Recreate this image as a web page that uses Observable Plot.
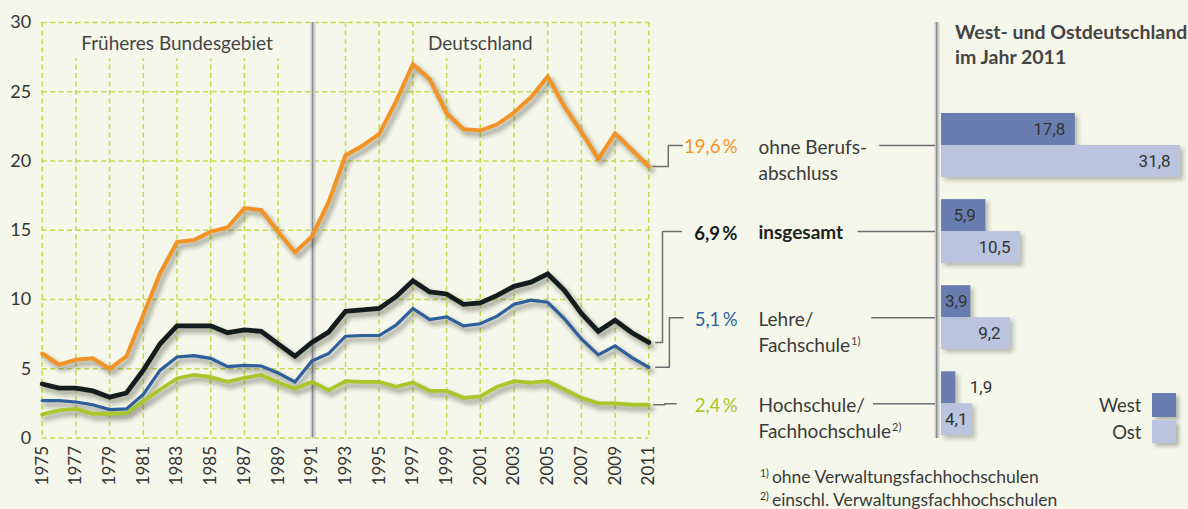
<!DOCTYPE html>
<html lang="de">
<head>
<meta charset="utf-8">
<script src="https://cdn.jsdelivr.net/npm/d3@7"></script>
<script src="https://cdn.jsdelivr.net/npm/@observablehq/plot@0.6"></script>
<style>
  html, body { margin:0; padding:0; background:#f5f7ea; }
  #chart { position:relative; width:1188px; height:509px; background:#f5f7ea; overflow:hidden;
           font-family: Lato, "Open Sans", sans-serif; color:#3a3a3a; }
  #chart svg { position:absolute; left:0; top:0; }
  #chart svg [aria-label^="y-axis"] text { font-size:18px; }
  .title { position:absolute; left:955px; top:19px; font-weight:700; font-size:19.5px; line-height:25px; color:#444; white-space:nowrap; }
  .foot { position:absolute; left:760px; top:465px; font-size:17.5px; line-height:23.3px; color:#3a3a3a; white-space:nowrap; }
  .foot sup { font-size:10.5px; vertical-align:6px; line-height:0; margin-right:3px; }
  .lg-text { position:absolute; width:60px; text-align:right; font-size:18.5px; line-height:24px; color:#3a3a3a; }
  .lg-sw { position:absolute; box-shadow:3px 3px 4px rgba(0,0,0,0.28); }
</style>
</head>
<body>
<div id="chart"></div>
<script>
// ---------------- data ----------------
const years = [1975,1976,1977,1978,1979,1980,1981,1982,1983,1984,1985,1986,1987,1988,1989,1990,1991,1992,1993,1994,1995,1996,1997,1998,1999,2000,2001,2002,2003,2004,2005,2006,2007,2008,2009,2010,2011];
const tickYears = [1975,1977,1979,1981,1983,1985,1987,1989,1991,1993,1995,1997,1999,2001,2003,2005,2007,2009,2011];
const yTicks = [0,5,10,15,20,25,30];

const ohneBerufsabschluss = [6.1,5.3,5.65,5.75,5.0,5.9,8.9,11.9,14.15,14.3,
  14.9,15.2,16.6,16.45,14.9,13.4,14.55,17.05,20.4,21.1,
  21.95,24.3,27.0,25.9,23.45,22.3,22.2,22.65,23.5,24.6,
  26.1,23.9,22.1,20.15,22.0,20.8,19.6];
const insgesamt = [3.9,3.6,3.6,3.4,2.95,3.25,4.9,6.8,8.1,8.1,
  8.1,7.6,7.8,7.7,6.8,5.9,6.9,7.65,9.15,9.25,
  9.35,10.2,11.35,10.55,10.4,9.65,9.75,10.3,10.95,11.25,
  11.85,10.65,9.0,7.7,8.5,7.6,6.9];
const lehreFachschule = [2.7,2.7,2.6,2.4,2.05,2.1,3.15,4.9,5.85,5.95,
  5.75,5.15,5.25,5.2,4.7,4.05,5.55,6.1,7.35,7.4,
  7.4,8.15,9.35,8.55,8.75,8.1,8.25,8.8,9.65,9.95,
  9.8,8.6,7.15,6.0,6.65,5.8,5.1];
const hochschule = [1.7,2.0,2.1,1.75,1.75,1.8,2.65,3.5,4.3,4.55,
  4.4,4.05,4.35,4.55,4.0,3.55,4.05,3.45,4.1,4.05,
  4.05,3.7,4.0,3.4,3.4,2.9,3.0,3.7,4.1,4.0,
  4.1,3.5,2.9,2.5,2.5,2.4,2.4];

const periodLabels = ["Früheres Bundesgebiet", "Deutschland"];
const periodBounds = [[1975, 1991], [1991, 2011]];

const categories = ["ohne Berufsabschluss", "insgesamt", "Lehre/Fachschule", "Hochschule/Fachhochschule"];
const labelLine1 = ["ohne Berufs-", "insgesamt", "Lehre/", "Hochschule/"];
const labelLine2 = ["abschluss", "", "Fachschule", "Fachhochschule"];
const footnoteMarks = ["", "", "1)", "2)"];
const westValues = [17.8, 5.9, 3.9, 1.9];
const ostValues = [31.8, 10.5, 9.2, 4.1];
const legendKeys = ["West", "Ost"];
const barTitle = ["West- und Ostdeutschland", "im Jahr 2011"];
const footnotes = [["1)", "ohne Verwaltungsfachhochschulen"], ["2)", "einschl. Verwaltungsfachhochschulen"]];

// ---------------- styles ----------------
const BG = "#f5f7ea";
const GRID = "#c6da4c";
const seriesValues = [ohneBerufsabschluss, insgesamt, lehreFachschule, hochschule];
const seriesStyle = [
  {color:"#f39325", width:4,   bold:false},
  {color:"#141c1e", width:4.8, bold:true},
  {color:"#2e5e9c", width:3.2, bold:false},
  {color:"#a9c72b", width:3.8, bold:false}
];
const drawOrder = [3, 2, 1, 0];
const elbow = [ {start:4, mid:19.5, end:33.5}, {start:7, mid:13.7, end:32.5},
                {start:7, mid:20.6, end:34.3}, {start:5, mid:16, end:27.4} ];
const connStartPx = [-61.8, -83.4, -69.7, -68];
const barColors = {West:"#6a7db0", Ost:"#bbc4df"};

const W = 1188, H = 509;
const LF = {left:41.7, right:648.3, top:22, bottom:437.5};
const BF = {left:941, right:1181.6, top:22, bottom:438, bandTop:113, bandBottom:435.3};

const lx = Plot.scale({x:{domain:[1975, 2011], range:[LF.left, LF.right]}});
const ly = Plot.scale({y:{domain:[0, 30], range:[LF.bottom, LF.top]}});
const bx = Plot.scale({x:{domain:[0, 32], range:[BF.left, BF.right]}});
const yBandOpts = {type:"band", domain:categories, range:[BF.bandTop, BF.bandBottom], paddingInner:0.2567, paddingOuter:0, align:0.5, round:false};
const by = Plot.scale({y:yBandOpts});
const bandCenter = c => by.apply(c) + by.bandwidth / 2;
const fmt = v => d3.format(".1f")(v).replace(".", ",");

const ctx = document.createElement("canvas").getContext("2d");
function textWidth(t, font) { ctx.font = font; return ctx.measureText(t).width; }

// ---------------- line chart ----------------
const lineData = seriesValues.map((vals, s) => years.map((year, i) => ({s, year, value: vals[i]})));
const periods = periodLabels.map((label, i) => ({label, mid:(periodBounds[i][0] + periodBounds[i][1]) / 2,
  half: textWidth(label, "19px Lato") / 2 + 10}));
const labelCenterY = 43.3;

const connectors = categories.map((c, s) => {
  const endV = seriesValues[s][seriesValues[s].length - 1];
  const x0 = lx.apply(2011);
  const yL = ly.invert(bandCenter(c));
  const e = elbow[s];
  return [
    {s, x: lx.invert(x0 + e.start), y: endV},
    {s, x: lx.invert(x0 + e.mid), y: endV},
    {s, x: lx.invert(x0 + e.mid), y: yL},
    {s, x: lx.invert(x0 + e.end), y: yL}
  ];
}).flat();

const lineMarks = [
  Plot.ruleY(yTicks, {stroke: GRID, strokeWidth: 1.5, strokeDasharray: "5,3.5"}),
  Plot.ruleX(tickYears, {stroke: GRID, strokeWidth: 1.5, strokeDasharray: "5,3.5"}),
  Plot.rect(periods, {x1: d => lx.invert(lx.apply(d.mid) - d.half), x2: d => lx.invert(lx.apply(d.mid) + d.half),
    y1: ly.invert(labelCenterY + 15), y2: ly.invert(LF.top + 2.2), fill: BG}),
  Plot.text(periods, {x: "mid", text: "label", frameAnchor: "top", lineAnchor: "middle", dy: labelCenterY - LF.top,
    fontSize: 19, fill: "#454545", fontFamily: "Lato, sans-serif"}),
  Plot.ruleX([1991], {stroke: "#cdcdcd", strokeWidth: 5, dx: 1.2}),
  Plot.ruleX([1991], {stroke: "#8e8e8e", strokeWidth: 1.3, dx: 0.8})
];
for (const s of drawOrder) {
  lineMarks.push(Plot.line(lineData[s], {x: "year", y: "value", stroke: "#2a2a1a", strokeOpacity: 0.35,
    strokeWidth: seriesStyle[s].width + 1.5, dx: 3, dy: 4, ariaDescription: "shadow"}));
}
for (const s of drawOrder) {
  lineMarks.push(Plot.line(lineData[s], {x: "year", y: "value", stroke: seriesStyle[s].color,
    strokeWidth: seriesStyle[s].width, strokeLinejoin: "miter", strokeMiterlimit: 3}));
}
lineMarks.push(Plot.line(connectors, {x: "x", y: "y", z: "s", stroke: "#6e6e6e", strokeWidth: 1.5, curve: "linear"}));

const linePlot = Plot.plot({
  width: W, height: H,
  marginLeft: LF.left, marginRight: W - LF.right, marginTop: LF.top, marginBottom: H - LF.bottom,
  style: {background: "transparent", overflow: "visible", fontFamily: "Lato, sans-serif", fontSize: "17px", color: "#333"},
  x: {domain: [1975, 2011], ticks: tickYears, tickFormat: d => String(d), tickRotate: -90, tickSize: 0, tickPadding: 8, label: null},
  y: {domain: [0, 30], ticks: yTicks, tickSize: 0, tickPadding: 11, label: null},
  marks: lineMarks
});

// ---------------- bar chart ----------------
const rows = categories.map((cat, i) => ({cat, i, l1: labelLine1[i], l2: labelLine2[i], note: footnoteMarks[i],
  west: westValues[i], ost: ostValues[i], last: seriesValues[i][seriesValues[i].length - 1]}));
const barRows = rows.flatMap(r => [{cat: r.cat, key: "West", value: r.west}, {cat: r.cat, key: "Ost", value: r.ost}]);
const barLen = v => bx.apply(v) - bx.apply(0);
const placement = v => barLen(v) >= 37 ? "end" : barLen(v) >= 27 ? "start" : "outside";
const half = by.bandwidth / 2;

const barMarks = [
  Plot.ruleX([0], {dx: -4.5, stroke: "#d0d0d0", strokeWidth: 5}),
  Plot.ruleX([0], {dx: -4.8, stroke: "#8e8e8e", strokeWidth: 1.5}),
  Plot.ruleY(rows, {y: "cat", x1: d => bx.invert(bx.apply(0) + connStartPx[d.i]), x2: bx.invert(bx.apply(0) - 6), stroke: "#6e6e6e", strokeWidth: 1.5}),
  Plot.barX(rows, {x: "west", y: "cat", insetBottom: half, fill: "#2a2a1a", fillOpacity: 0.3, dx: 3, dy: 3, ariaDescription: "shadow"}),
  Plot.barX(rows, {x: "ost", y: "cat", insetTop: half, fill: "#2a2a1a", fillOpacity: 0.3, dx: 3, dy: 3, ariaDescription: "shadow"}),
  Plot.barX(rows, {x: "west", y: "cat", insetBottom: half, fill: barColors.West}),
  Plot.barX(rows, {x: "ost", y: "cat", insetTop: half, fill: barColors.Ost})
];
for (const key of legendKeys) {
  const dy = key === "West" ? -half / 2 : half / 2;
  const base = {y: "cat", text: d => fmt(d.value), dy, fontSize: 17, fill: "#333", fontFamily: "Roboto, Lato, sans-serif", lineAnchor: "middle"};
  const sel = p => barRows.filter(d => d.key === key && placement(d.value) === p);
  barMarks.push(Plot.text(sel("end"), {...base, x: "value", textAnchor: "end", dx: -10}));
  barMarks.push(Plot.text(sel("start"), {...base, x: 0, textAnchor: "start", dx: 3.5}));
  barMarks.push(Plot.text(sel("outside"), {...base, x: "value", textAnchor: "start", dx: 14}));
}
// category labels
barMarks.push(Plot.text(rows.filter(r => !seriesStyle[r.i].bold), {x: 0, y: "cat", text: "l1", dx: -183, dy: 2, textAnchor: "start", fontSize: 19, fill: "#3a3a3a"}));
barMarks.push(Plot.text(rows.filter(r => seriesStyle[r.i].bold), {x: 0, y: "cat", text: "l1", dx: -183, dy: 1, textAnchor: "start", fontSize: 19, fontWeight: "bold", fill: "#222"}));
barMarks.push(Plot.text(rows.filter(r => r.l2), {x: 0, y: "cat", text: "l2", dx: -183, dy: 28, textAnchor: "start", fontSize: 19, fill: "#3a3a3a", ariaDescription: "label2"}));
// 2011 values
for (const r of rows) {
  const st = seriesStyle[r.i];
  barMarks.push(Plot.text([r], {x: 0, y: "cat", text: d => fmt(d.last) + "\u2009%", dx: -204, dy: 2, textAnchor: "end",
    fontSize: 18.5, fill: st.color, fontWeight: st.bold ? "bold" : "normal"}));
}

const barPlot = Plot.plot({
  width: W, height: H,
  marginLeft: BF.left, marginRight: W - BF.right, marginTop: BF.top, marginBottom: H - BF.bottom,
  style: {background: "transparent", overflow: "visible", fontFamily: "Lato, sans-serif", fontSize: "18px", color: "#333"},
  x: {domain: [0, 32], axis: null},
  y: {...yBandOpts, axis: null},
  marks: barMarks
});

// ---------------- assemble ----------------
const root = document.getElementById("chart");
const NS = "http://www.w3.org/2000/svg";
function addShadow(svg, id) {
  const defs = document.createElementNS(NS, "defs");
  defs.innerHTML = `<filter id="${id}" filterUnits="userSpaceOnUse" x="0" y="0" width="${W}" height="${H}"><feGaussianBlur stdDeviation="2.2"/></filter>`;
  svg.insertBefore(defs, svg.firstChild);
  svg.querySelectorAll('[aria-description="shadow"]').forEach(g => g.setAttribute("filter", `url(#${id})`));
}
addShadow(linePlot, "lshadow");
addShadow(barPlot, "bshadow");
// footnote superscripts on category labels
barPlot.querySelectorAll('[aria-description="label2"] text').forEach(t => {
  const idx = labelLine2.indexOf(t.textContent);
  if (idx >= 0 && footnoteMarks[idx]) {
    const ts = document.createElementNS(NS, "tspan");
    ts.setAttribute("font-size", "11");
    ts.setAttribute("dy", "-7");
    ts.setAttribute("dx", "1");
    ts.textContent = footnoteMarks[idx];
    t.appendChild(ts);
  }
});
root.appendChild(linePlot);
root.appendChild(barPlot);

const title = document.createElement("div");
title.className = "title";
title.innerHTML = barTitle.join("<br>");
root.appendChild(title);

legendKeys.forEach((k, i) => {
  const top = [393.3, 420][i];
  const t = document.createElement("div");
  t.className = "lg-text";
  t.style.left = (1141.5 - 60) + "px";
  t.style.top = (top - 0.5 + i * 0.5) + "px";
  t.textContent = k;
  root.appendChild(t);
  const sw = document.createElement("div");
  sw.className = "lg-sw";
  sw.style.left = "1152px"; sw.style.top = top + "px";
  sw.style.width = "23.7px"; sw.style.height = "23.4px";
  sw.style.background = barColors[k];
  root.appendChild(sw);
});

const foot = document.createElement("div");
foot.className = "foot";
foot.innerHTML = footnotes.map(([m, t]) => `<sup>${m}</sup>${t}`).join("<br>");
root.appendChild(foot);
</script>
</body>
</html>
